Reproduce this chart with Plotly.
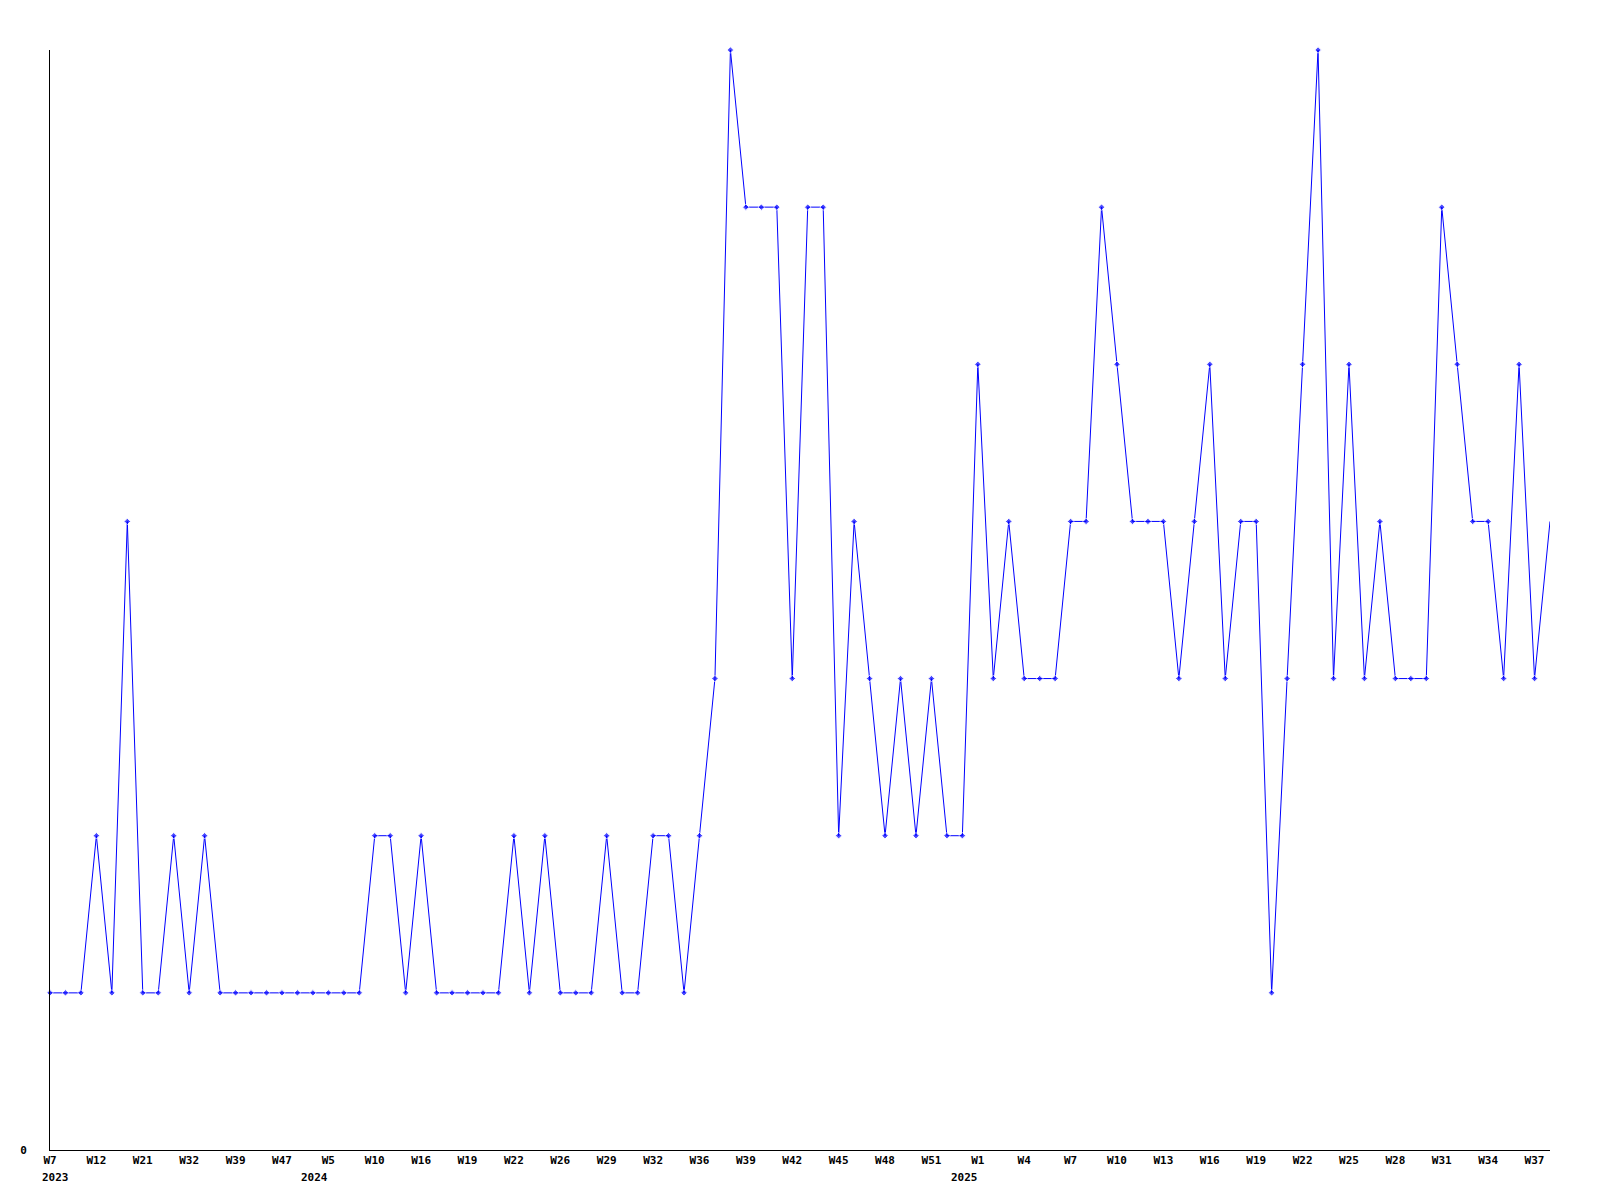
import plotly.graph_objects as go

# Week categories (year, ISO-like week) for each data point
week_labels = [
    "2023-W07", "2023-W09", "2023-W10", "2023-W12", "2023-W14", "2023-W17",
    "2023-W21", "2023-W24", "2023-W28", "2023-W32", "2023-W34", "2023-W36",
    "2023-W39", "2023-W41", "2023-W44", "2023-W47", "2023-W49", "2023-W52",
    "2024-W05", "2024-W07", "2024-W08", "2024-W10", "2024-W12", "2024-W14",
    "2024-W16", "2024-W17", "2024-W18", "2024-W19", "2024-W20", "2024-W21",
    "2024-W22", "2024-W23", "2024-W25", "2024-W26", "2024-W27", "2024-W28",
    "2024-W29", "2024-W30", "2024-W31", "2024-W32", "2024-W33", "2024-W35",
    "2024-W36", "2024-W37", "2024-W38", "2024-W39", "2024-W40", "2024-W41",
    "2024-W42", "2024-W43", "2024-W44", "2024-W45", "2024-W46", "2024-W47",
    "2024-W48", "2024-W49", "2024-W50", "2024-W51", "2024-W52", "2024-W53",
    "2025-W01", "2025-W02", "2025-W03", "2025-W04", "2025-W05", "2025-W06",
    "2025-W07", "2025-W08", "2025-W09", "2025-W10", "2025-W11", "2025-W12",
    "2025-W13", "2025-W14", "2025-W15", "2025-W16", "2025-W17", "2025-W18",
    "2025-W19", "2025-W20", "2025-W21", "2025-W22", "2025-W23", "2025-W24",
    "2025-W25", "2025-W26", "2025-W27", "2025-W28", "2025-W29", "2025-W30",
    "2025-W31", "2025-W32", "2025-W33", "2025-W34", "2025-W35", "2025-W36",
    "2025-W37", "2025-W38",
]

counts = [
    1, 1, 1, 2, 1, 4, 1, 1, 2, 1, 2, 1, 1, 1, 1, 1, 1, 1, 1, 1,
    1, 2, 2, 1, 2, 1, 1, 1, 1, 1, 2, 1, 2, 1, 1, 1, 2, 1, 1, 2,
    2, 1, 2, 3, 7, 6, 6, 6, 3, 6, 6, 2, 4, 3, 2, 3, 2, 3, 2, 2,
    5, 3, 4, 3, 3, 3, 4, 4, 6, 5, 4, 4, 4, 3, 4, 5, 3, 4, 4, 1,
    3, 5, 7, 3, 5, 3, 4, 3, 3, 3, 6, 5, 4, 4, 3, 5, 3, 4,
]

# Shown tick labels (every third point)
tick_cats = week_labels[::3]
tick_text = ["W" + str(int(lab.split("-W")[1])) for lab in tick_cats]

# Year labels: first category of each year
year_starts = []
seen = set()
for lab in week_labels:
    yr = lab.split("-W")[0]
    if yr not in seen:
        seen.add(yr)
        year_starts.append((yr, lab))

# last point drawn without a marker, as in the reference
marker_sizes = [5] * (len(counts) - 1) + [0]

fig = go.Figure()
fig.add_trace(go.Scatter(
    x=week_labels,
    y=counts,
    mode="lines+markers",
    line=dict(color="#0000ff", width=1),
    marker=dict(color="#0000ff", size=marker_sizes, symbol="diamond"),
    cliponaxis=False,
    showlegend=False,
))

font = dict(family="DejaVu Sans Mono", size=11, color="black", weight="bold")

for k, (yr, lab) in enumerate(year_starts):
    if k == 0:
        anchor, shift = "left", -10
    else:
        anchor, shift = "right", 2
    fig.add_annotation(
        x=lab, xref="x", y=0, yref="paper",
        text=yr, showarrow=False, font=font,
        xanchor=anchor, xshift=shift,
        yanchor="middle", yshift=-27,
    )

fig.update_layout(
    width=1592, height=1192,
    paper_bgcolor="white", plot_bgcolor="white",
    margin=dict(l=42, r=50, t=42, b=50, pad=0),
    font=font,
    xaxis=dict(
        type="category",
        categoryorder="array", categoryarray=week_labels,
        range=[0, len(week_labels) - 1],
        tickmode="array", tickvals=tick_cats, ticktext=tick_text,
        showgrid=False, zeroline=False,
        showline=True, linecolor="black", linewidth=1,
        ticks="", tickangle=0, tickfont=font,
    ),
    yaxis=dict(
        range=[0, 7],
        tickmode="array", tickvals=[0], ticktext=["0"],
        showgrid=False, zeroline=False,
        showline=True, linecolor="black", linewidth=1,
        ticks="", tickfont=font, ticklabelstandoff=20,
    ),
)

fig.write_html("out.html")
